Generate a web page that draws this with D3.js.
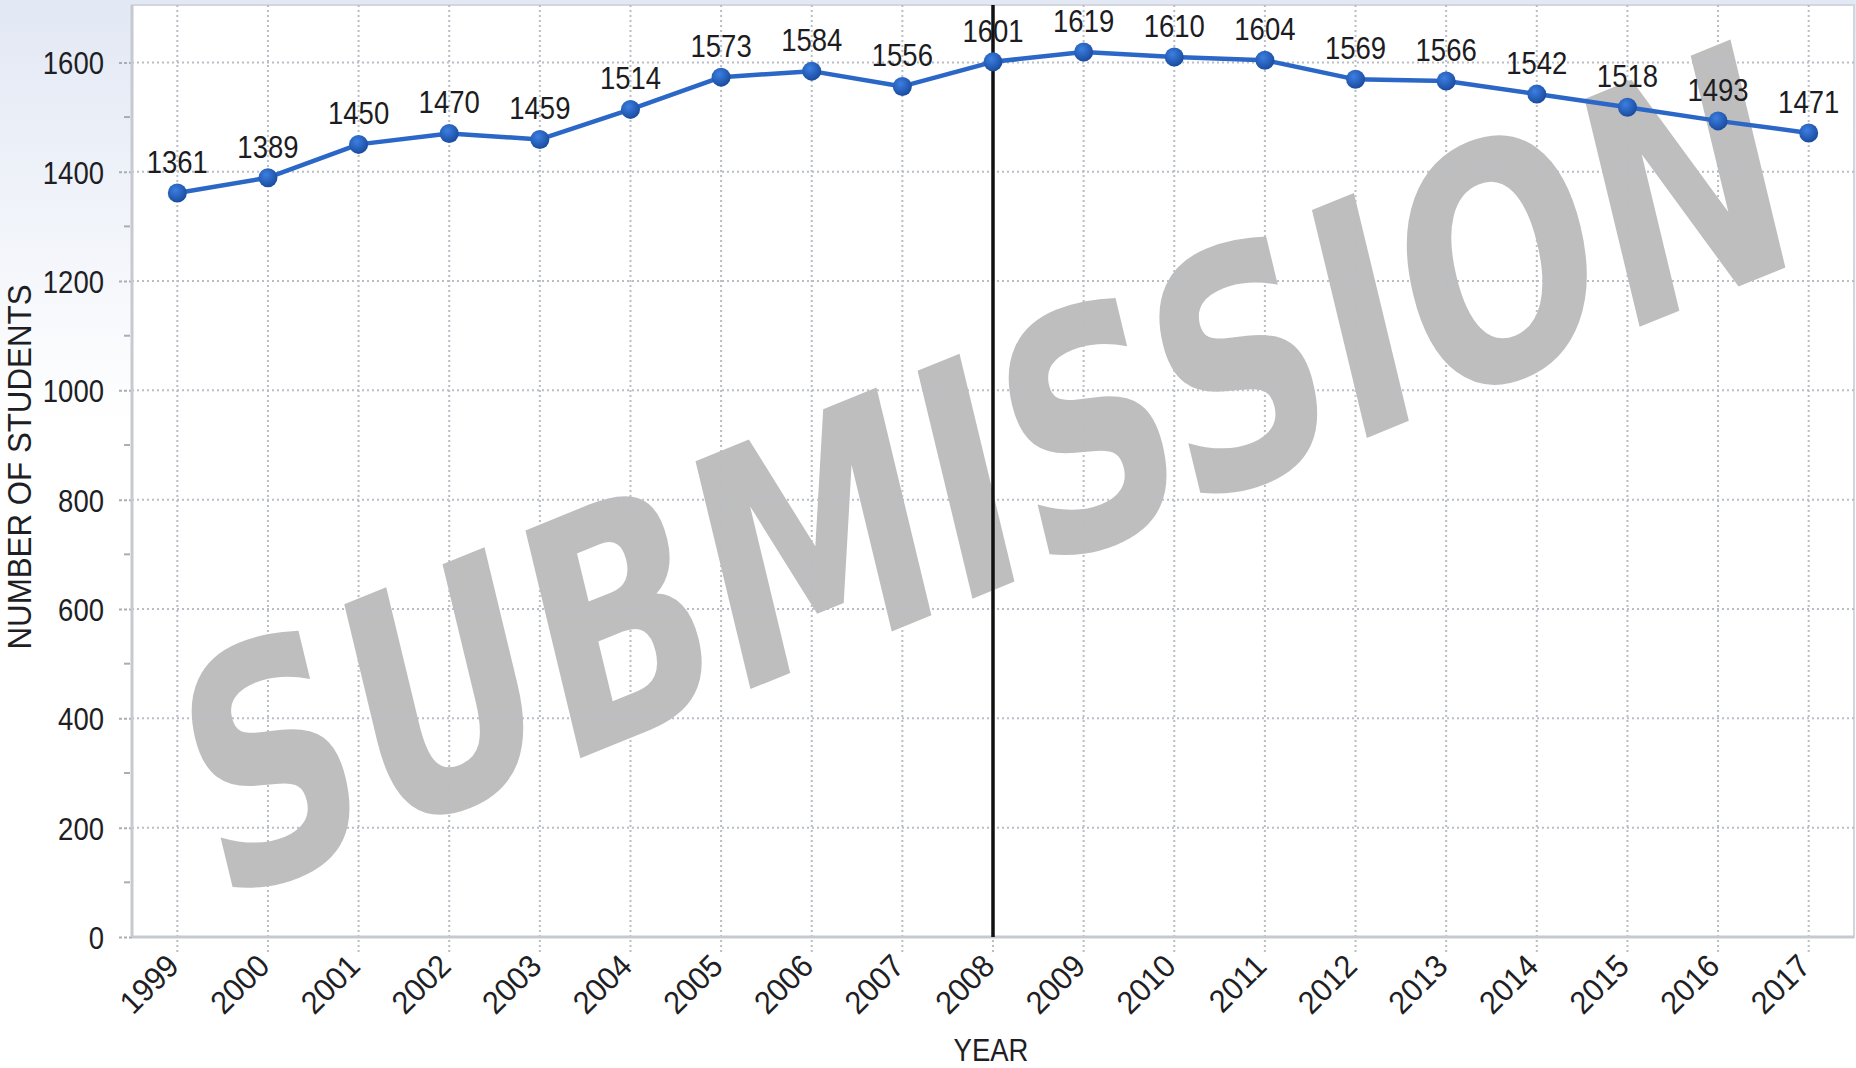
<!DOCTYPE html>
<html lang="en">
<head>
	<meta charset="UTF-8">
	<title>Number of students per year</title>
	<script src="https://cdn.jsdelivr.net/npm/d3@7"></script>
	<style>
		body { margin: 0; background: #fff; }
		text { font-family: "Liberation Sans", Arial, sans-serif; }
	</style>
</head>
<body>
	<svg id="chart" width="1856" height="1068"></svg>
</body>
<script>

const years = [1999, 2000, 2001, 2002, 2003, 2004, 2005, 2006, 2007, 2008,
	2009, 2010, 2011, 2012, 2013, 2014, 2015, 2016, 2017];
const students = [1361, 1389, 1450, 1470, 1459, 1514, 1573, 1584, 1556, 1601,
	1619, 1610, 1604, 1569, 1566, 1542, 1518, 1493, 1471];
const yMajorTicks = [0, 200, 400, 600, 800, 1000, 1200, 1400, 1600];
const yMinorTicks = [100, 300, 500, 700, 900, 1100, 1300, 1500];
const markerYear = 2008;

const W = 1856, H = 1068;
const plotL = 132, plotR = 1854, plotT = 5, plotB = 937;
const squeeze = 'scale(0.86,1)';

const svg = d3.select('#chart');

const x = d3.scalePoint().domain(years).range([plotL, plotR]).padding(0.5);
const y = d3.scaleLinear().domain([0, 1705]).range([plotB, plotT]);

// background + plot area
const defs = svg.append('defs');
const bg = defs.append('linearGradient').attr('id', 'bg')
	.attr('x1', 0).attr('y1', 0).attr('x2', 0).attr('y2', 1);
bg.append('stop').attr('offset', '0%').attr('stop-color', '#e2e8f4');
bg.append('stop').attr('offset', '40%').attr('stop-color', '#ffffff');

const dot = defs.append('radialGradient').attr('id', 'dot')
	.attr('cx', '40%').attr('cy', '35%').attr('r', '65%');
dot.append('stop').attr('offset', '0%').attr('stop-color', '#3c7fe2');
dot.append('stop').attr('offset', '100%').attr('stop-color', '#1a4c9f');

svg.append('rect').attr('width', W).attr('height', H).attr('fill', 'url(#bg)');
svg.append('rect')
	.attr('x', plotL).attr('y', plotT)
	.attr('width', plotR - plotL).attr('height', plotB - plotT)
	.attr('fill', '#fff')
	.attr('stroke', '#d3d7dd').attr('stroke-width', 2);

// watermark, clipped to the plot
defs.append('clipPath').attr('id', 'plotclip')
	.append('rect')
	.attr('x', plotL).attr('y', plotT)
	.attr('width', plotR - plotL).attr('height', plotB - plotT);

svg.append('g').attr('clip-path', 'url(#plotclip)')
	.append('text')
	.attr('transform', 'translate(218,906) scale(1,1.3) rotate(-17.4)')
	.attr('textLength', 1664)
	.attr('lengthAdjust', 'spacingAndGlyphs')
	.style('font-family', '"DejaVu Sans", Verdana, sans-serif')
	.style('font-weight', 'bold')
	.style('font-size', '252px')
	.attr('fill', '#bebebe')
	.text('SUBMISSION');

// grid
svg.append('g').selectAll('line').data(yMajorTicks.filter(d => d > 0)).join('line')
	.attr('x1', plotL).attr('x2', plotR)
	.attr('y1', d => y(d)).attr('y2', d => y(d))
	.attr('stroke', '#b9bdc5').attr('stroke-width', 2)
	.attr('stroke-dasharray', '2,3');

svg.append('g').selectAll('line').data(years).join('line')
	.attr('x1', d => x(d)).attr('x2', d => x(d))
	.attr('y1', plotT).attr('y2', plotB + 18)
	.attr('stroke', '#b9bdc5').attr('stroke-width', 2)
	.attr('stroke-dasharray', '2,3');

// y axis
const yAxis = svg.append('g')
	.attr('transform', `translate(${plotL},0)`)
	.call(d3.axisLeft(y).tickValues(yMajorTicks).tickFormat(d3.format('d'))
		.tickSize(15).tickSizeOuter(0));
yAxis.select('.domain').remove();
yAxis.selectAll('.tick line')
	.attr('stroke', '#a9adb5').attr('stroke-width', 2).attr('stroke-dasharray', '3,2');
yAxis.selectAll('.tick text')
	.attr('x', 0).attr('dy', '0.36em')
	.attr('transform', 'translate(-28,0) ' + squeeze)
	.attr('fill', '#1e1e24')
	.style('font-size', '32px');

svg.append('g').selectAll('line').data(yMinorTicks).join('line')
	.attr('x1', plotL - 8).attr('x2', plotL - 2)
	.attr('y1', d => y(d)).attr('y2', d => y(d))
	.attr('stroke', '#a9adb5').attr('stroke-width', 2);

// x axis
const xAxis = svg.append('g')
	.attr('transform', `translate(0,${plotB})`)
	.call(d3.axisBottom(x).tickSize(0).tickSizeOuter(0));
xAxis.select('.domain').remove();
xAxis.selectAll('.tick text')
	.attr('y', 0).attr('dy', 0)
	.attr('text-anchor', 'end')
	.attr('transform', 'translate(3,31) rotate(-45) scale(0.95,1)')
	.attr('fill', '#1e1e24')
	.style('font-size', '32px');

// axis lines
svg.append('line')
	.attr('x1', plotL).attr('x2', plotL).attr('y1', plotT).attr('y2', plotB)
	.attr('stroke', '#c6cad0').attr('stroke-width', 3);
svg.append('line')
	.attr('x1', plotL).attr('x2', plotR).attr('y1', plotB).attr('y2', plotB)
	.attr('stroke', '#c6cad0').attr('stroke-width', 3);

// axis titles
svg.append('text')
	.attr('transform', `translate(${(plotL + plotR) / 2 - 2},1061) ` + squeeze)
	.attr('text-anchor', 'middle')
	.attr('fill', '#1e1e24')
	.style('font-size', '32px')
	.text('YEAR');

svg.append('text')
	.attr('transform', 'translate(31,467) rotate(-90)')
	.attr('text-anchor', 'middle')
	.attr('textLength', 365)
	.attr('lengthAdjust', 'spacingAndGlyphs')
	.attr('fill', '#1e1e24')
	.style('font-size', '33px')
	.text('NUMBER OF STUDENTS');

// reference line
svg.append('line')
	.attr('x1', x(markerYear)).attr('x2', x(markerYear))
	.attr('y1', plotT).attr('y2', plotB)
	.attr('stroke', '#111').attr('stroke-width', 3.5);

// series
const pts = years.map((yr, i) => ({ yr, v: students[i] }));

svg.append('path')
	.datum(pts)
	.attr('fill', 'none')
	.attr('stroke', '#2b67c7')
	.attr('stroke-width', 4.5)
	.attr('stroke-linejoin', 'round')
	.attr('d', d3.line().x(d => x(d.yr)).y(d => y(d.v)));

svg.append('g').selectAll('circle').data(pts).join('circle')
	.attr('cx', d => x(d.yr)).attr('cy', d => y(d.v))
	.attr('r', 9.5)
	.attr('fill', 'url(#dot)');

svg.append('g').selectAll('text').data(pts).join('text')
	.attr('transform', d => `translate(${x(d.yr)},${y(d.v) - 20}) ` + squeeze)
	.attr('text-anchor', 'middle')
	.attr('fill', '#1c1c22')
	.style('font-size', '32px')
	.text(d => d.v);

</script>
</html>
